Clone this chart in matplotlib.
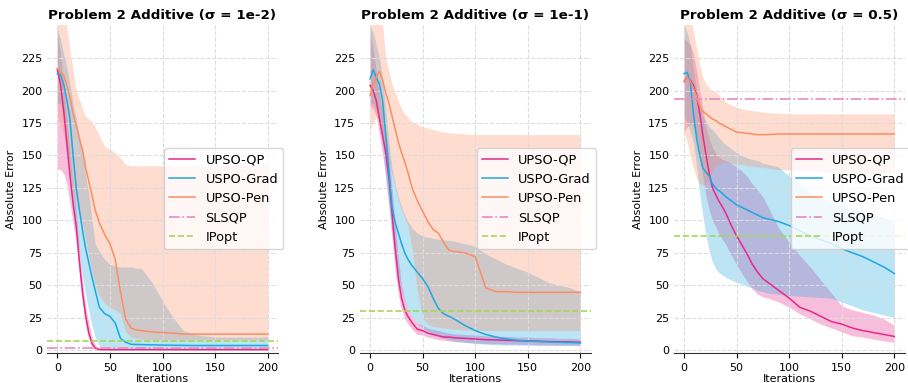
import matplotlib.pyplot as plt
import numpy as np

iters = [0, 3, 6, 9, 12, 15, 18, 21, 24, 27, 30, 33, 36, 40, 45, 50, 55, 60, 65, 70,
         75, 80, 90, 100, 110, 120, 130, 140, 150, 160, 170, 180, 190, 200]

titles = ['Problem 2 Additive (σ = 1e-2)', 'Problem 2 Additive (σ = 1e-1)',
          'Problem 2 Additive (σ = 0.5)']
labels = ['UPSO-QP', 'USPO-Grad', 'UPSO-Pen', 'SLSQP', 'IPopt']

# ---- sigma = 1e-2
p1_qp_mean = [216, 205, 185, 160, 135, 113, 95, 68, 44, 26, 13, 5, 1.5, 0.4] + [0.3] * 20
p1_qp_lo = [140, 139, 136, 128, 113, 98, 82, 58, 36, 19, 8, 2, 0.2] + [0] * 21
p1_qp_hi = [245, 228, 205, 178, 152, 127, 108, 78, 53, 34, 20, 10, 4, 1.2] + [0.7] * 20
p1_grad_mean = [213, 212, 205, 193, 178, 150, 125, 108, 92, 78, 67, 56, 46, 33, 28, 26, 21, 9, 6, 4.5,
                4.3, 4.2, 4, 3.8, 3.7, 3.6] + [3.5] * 8
p1_grad_lo = [190, 190, 180, 160, 140, 118, 95, 75, 57, 42, 30, 19, 10, 3, 1.5, 1.2] + [1] * 18
p1_grad_hi = [248, 240, 228, 218, 205, 190, 178, 165, 150, 135, 120, 100, 82, 76, 70, 66, 65, 64, 64, 64,
              63, 63, 52, 38, 25, 15, 12.5, 11, 10, 10, 10, 10, 10, 10]
p1_pen_mean = [217, 214, 212, 204, 195, 182, 173, 163, 154, 140, 130, 119, 108, 98, 89, 82, 70, 45, 24, 17,
               15.5, 15, 14, 13.5, 13, 12.3] + [12.3] * 8
p1_pen_lo = [180, 175, 165, 150, 135, 122, 112, 104, 97, 85, 72, 60, 50, 42, 36, 33, 31, 28, 14, 10,
             9, 8.5] + [8] * 12
p1_pen_hi = [265, 262, 258, 250, 230, 215, 200, 193, 186, 180, 178, 176, 172, 165, 157, 155, 152, 148, 143,
             142] + [142] * 14

# ---- sigma = 1e-1
p2_qp_mean = [204, 200, 192, 178, 165, 152, 132, 105, 78, 55, 40, 31, 26, 21, 16, 15, 13, 12, 11, 10,
              10, 9.5, 9, 8.5, 8, 7.8, 7.5, 7.2, 7, 6.8, 6.5, 6.4, 6.3, 6]
p2_qp_lo = [188, 186, 180, 165, 150, 135, 112, 85, 60, 42, 31, 24, 20, 16, 12, 11.5, 10, 9, 8, 7.5,
            7, 6.5, 6, 5.5, 5, 5, 4.5, 4.5, 4.2, 4, 4, 3.8, 3.8, 3.5]
p2_qp_hi = [245, 232, 215, 198, 182, 168, 150, 124, 96, 70, 50, 39, 32, 26, 21, 19, 17, 16, 15, 14,
            13, 12.5, 12, 11.5, 11, 10.5, 10.5, 10, 10, 9.5, 9.5, 9, 9, 8.5]
p2_grad_mean = [209, 216, 210, 205, 192, 165, 138, 110, 98, 90, 82, 75, 70, 65, 60, 55, 49, 40, 32, 28,
                26, 24, 19, 15, 12, 10, 8.5, 7.5, 7, 6.6, 6.3, 6, 5.8, 5.5]
p2_grad_lo = [190, 190, 185, 175, 160, 130, 110, 90, 72, 57, 46, 38, 32, 26, 21, 17, 14, 12, 10.5, 9,
              8, 7, 6, 5, 4.5, 4, 4, 3.8, 3.8, 3.6, 3.6, 3.5, 3.5, 3.5]
p2_grad_hi = [250, 245, 235, 225, 210, 185, 160, 140, 128, 118, 110, 104, 99, 94, 90, 88, 87, 86, 85.5, 85,
              84.5, 84, 82, 80, 74, 70, 66, 63, 60, 56, 52, 50, 48, 45]
p2_pen_mean = [196, 205, 210, 215, 208, 198, 190, 180, 170, 160, 152, 145, 137, 125, 115, 107, 99, 93, 90, 83,
               77, 76, 75, 72, 48, 45, 45] + [44.5] * 7
p2_pen_lo = [170, 175, 180, 175, 165, 155, 145, 135, 125, 115, 108, 102, 96, 78, 45, 25, 20, 18, 17.5, 17,
             16.5, 16, 15.5, 15.5] + [15] * 10
p2_pen_hi = [270, 268, 262, 255, 250, 225, 215, 205, 198, 192, 186, 182, 179, 176, 174, 172, 171, 170, 169, 168,
             167.5, 167, 166.5] + [166] * 11

# ---- sigma = 0.5
p3_qp_mean = [207, 210, 208, 204, 196, 182, 165, 150, 136, 125, 120, 115, 111, 105, 96, 88, 81, 74, 66, 60,
              55, 52, 46, 40, 33, 30, 26, 22, 20, 17, 15, 13.5, 12, 10.5]
p3_qp_lo = [168, 172, 175, 172, 165, 150, 133, 118, 108, 100, 95, 90, 86, 81, 73, 66, 59, 53, 47, 43,
            41, 40, 37, 33, 28, 24, 20, 17, 14, 11, 10, 8.5, 7, 6]
p3_qp_hi = [240, 238, 235, 228, 215, 200, 185, 172, 163, 156, 152, 149, 147, 146, 144, 141, 138, 134, 128, 123,
            118, 110, 94, 83, 73, 64, 54, 44, 34, 31, 29, 27, 24, 19]
p3_grad_mean = [213, 214, 206, 182, 163, 150, 140, 137, 134, 128, 125, 123, 121, 118, 115, 112, 110, 108, 106, 104,
                102, 101, 99, 96, 92, 88, 85, 82, 78, 75, 72, 68, 64, 59]
p3_grad_lo = [180, 175, 168, 160, 141, 120, 103, 88, 76, 68, 63, 60, 58, 56, 54, 52, 51, 49, 48, 46,
              45, 44, 43, 42, 41.5, 41, 40.5, 40, 37, 34, 31, 29, 27, 25]
p3_grad_hi = [250, 245, 235, 215, 200, 190, 180, 176, 172, 170, 167, 164, 161, 158, 155, 152, 150, 148, 147, 146,
              144, 143, 141, 134, 128, 121, 117, 114, 111, 108, 106, 104, 102, 100]
p3_pen_mean = [207, 210, 207, 202, 195, 188, 184, 182, 180, 178, 177, 175, 174, 172, 170, 168, 167.5, 167, 166.5,
               166, 166, 166] + [166.5] * 12
p3_pen_lo = [168, 160, 150, 140, 132, 128, 127, 128, 132, 138, 142, 143, 144, 145, 144, 143, 143, 142, 142, 141,
             141, 140, 139, 139, 138, 138, 138, 137, 137, 137, 136, 136, 136, 136]
p3_pen_hi = [265, 262, 258, 245, 232, 220, 210, 205, 202, 200, 199, 197, 194, 191, 189, 187, 186, 185, 184.5, 184,
             183.5, 183, 182.5] + [182] * 11

# reference solvers (constant lines); SLSQP for 1e-1 is off the chart
slsqp = [1.8, 320, 193.4]
ipopt = [7.2, 30, 88]

colors = {'qp': '#e7298a', 'grad': '#1ea7e1', 'pen': '#fc8d62', 'slsqp': '#e78ac3', 'ipopt': '#a6d854'}

panels = [
    [(p1_qp_mean, p1_qp_lo, p1_qp_hi), (p1_grad_mean, p1_grad_lo, p1_grad_hi), (p1_pen_mean, p1_pen_lo, p1_pen_hi)],
    [(p2_qp_mean, p2_qp_lo, p2_qp_hi), (p2_grad_mean, p2_grad_lo, p2_grad_hi), (p2_pen_mean, p2_pen_lo, p2_pen_hi)],
    [(p3_qp_mean, p3_qp_lo, p3_qp_hi), (p3_grad_mean, p3_grad_lo, p3_grad_hi), (p3_pen_mean, p3_pen_lo, p3_pen_hi)],
]

W, H = 908, 383
fig = plt.figure(figsize=(W / 100, H / 100), dpi=100)
lefts = [46.8, 359.5, 673.5]
x = np.array(iters)

for i, series in enumerate(panels):
    ax = fig.add_axes([lefts[i] / W, 1 - 353.3 / H, 231.4 / W, 328.3 / H])
    keys = ['qp', 'grad', 'pen']

    # bands first, in legend order, so overlaps blend
    for key, (mean, lo, hi) in zip(keys, series):
        ax.fill_between(x, lo, hi, color=colors[key], alpha=0.3, lw=0)

    handles = []
    for key, lab, (mean, lo, hi) in zip(keys, labels, series):
        h, = ax.plot(x, mean, color=colors[key], lw=1.1, label=lab)
        handles.append(h)

    h = ax.axhline(slsqp[i], color=colors['slsqp'], ls='-.', lw=1.2, label='SLSQP')
    handles.append(h)
    h = ax.axhline(ipopt[i], color=colors['ipopt'], ls='--', lw=1.2, label='IPopt')
    handles.append(h)

    ax.set_xlim(-10, 210)
    ax.set_ylim(-2.5, 250.5)
    ax.set_xticks([0, 50, 100, 150, 200])
    ax.set_yticks(range(0, 226, 25))
    ax.tick_params(axis='both', labelsize=8)
    ax.tick_params(axis='y', length=0, pad=3)
    ax.tick_params(axis='x', length=3.5)
    ax.grid(True, ls='--', color='#dddddd', lw=0.8)
    for s in ['top', 'right', 'left']:
        ax.spines[s].set_visible(False)
    ax.spines['bottom'].set_color('#333333')

    ax.set_title(titles[i], fontsize=9.7, fontweight='bold', pad=4)
    ax.set_xlabel('Iterations', fontsize=8, labelpad=0.5)
    ax.set_ylabel('Absolute Error', fontsize=8, labelpad=4)
    ax.legend(handles=handles, loc='center right', bbox_to_anchor=(1.05, 0.4715), fontsize=9.3)

fig.savefig('out.png', dpi=100)
